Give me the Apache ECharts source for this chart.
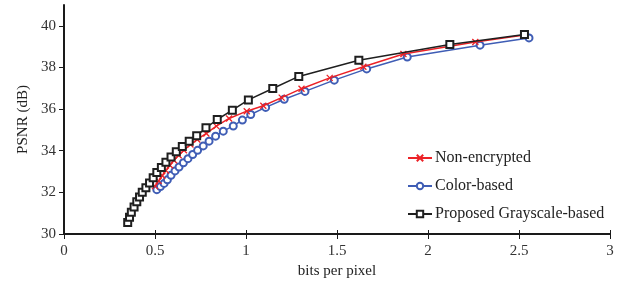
<!DOCTYPE html>
<html>
<head>
<meta charset="utf-8">
<script src="https://cdn.jsdelivr.net/npm/echarts@6/dist/echarts.min.js"></script>
<style>
  html, body { margin: 0; padding: 0; background: #fff; }
  #main { width: 631px; height: 288px; }
</style>
</head>
<body>
<div id="main"></div>
<script>
// series names
var seriesNames = ['Non-encrypted', 'Color-based', 'Proposed Grayscale-based'];

// [bits per pixel, PSNR dB]
var nonEncrypted = [
    [0.50, 32.3], [0.52, 32.55], [0.54, 32.8], [0.56, 33.05], [0.582, 33.3],
    [0.604, 33.54], [0.63, 33.78], [0.659, 34.02], [0.695, 34.3], [0.732, 34.54],
    [0.782, 34.83], [0.837, 35.18], [0.907, 35.55], [1.004, 35.9], [1.095, 36.16],
    [1.196, 36.55], [1.305, 36.98], [1.46, 37.5], [1.645, 38.03], [1.865, 38.65],
    [2.26, 39.22], [2.53, 39.56]
];
var colorBased = [
    [0.51, 32.13], [0.53, 32.28], [0.55, 32.43], [0.568, 32.6], [0.588, 32.82],
    [0.61, 33.03], [0.632, 33.22], [0.656, 33.42], [0.681, 33.62], [0.707, 33.82],
    [0.734, 34.02], [0.765, 34.23], [0.797, 34.46], [0.833, 34.7], [0.875, 34.94],
    [0.93, 35.19], [0.98, 35.47], [1.026, 35.74], [1.108, 36.08], [1.21, 36.47],
    [1.324, 36.85], [1.485, 37.39], [1.663, 37.93], [1.886, 38.5], [2.286, 39.07],
    [2.555, 39.42]
];
var grayscaleBased = [
    [0.35, 30.55], [0.36, 30.8], [0.37, 31.05], [0.385, 31.3], [0.40, 31.55],
    [0.415, 31.78], [0.43, 32.0], [0.45, 32.22], [0.47, 32.45], [0.49, 32.7],
    [0.51, 32.95], [0.535, 33.2], [0.56, 33.45], [0.588, 33.7], [0.617, 33.95],
    [0.65, 34.2], [0.688, 34.45], [0.729, 34.72], [0.78, 35.1], [0.842, 35.5],
    [0.925, 35.95], [1.013, 36.44], [1.147, 36.99], [1.29, 37.57], [1.62, 38.35],
    [2.12, 39.1], [2.53, 39.58]
];

var yTicks = [30, 32, 34, 36, 38, 40];

var font = 'Liberation Serif';
var xMark = 'path://M0,0L10,10M10,0L0,10';

var chart = echarts.init(document.getElementById('main'));

var option = {
    backgroundColor: '#fff',
    animation: false,
    grid: { left: 64, right: 21, top: 5, bottom: 54 },
    legend: {
        orient: 'vertical',
        left: 402,
        top: 145,
        itemWidth: 24,
        itemHeight: 8,
        itemGap: 12,
        textStyle: { fontFamily: font, fontSize: 16, color: '#222', padding: [0, 0, 0, -2] },
        data: seriesNames
    },
    xAxis: [{
        type: 'value',
        min: 0, max: 3, interval: 0.5,
        name: 'bits per pixel',
        nameLocation: 'middle',
        nameGap: 30,
        nameTextStyle: { fontFamily: font, fontSize: 15, color: '#222' },
        axisLine: { lineStyle: { color: '#1a1a1a', width: 2 } },
        axisTick: { length: 5, lineStyle: { color: '#1a1a1a', width: 1 } },
        axisLabel: { fontFamily: font, fontSize: 15, color: '#333', margin: 10 },
        splitLine: { show: false }
    }, {
        type: 'value',
        position: 'bottom',
        min: 0, max: 3, interval: 0.5,
        axisLine: { show: false },
        axisTick: { inside: true, length: 4, lineStyle: { color: '#1a1a1a', width: 1 } },
        axisLabel: { show: false },
        splitLine: { show: false }
    }],
    yAxis: {
        type: 'value',
        min: 30, max: 41,
        name: 'PSNR (dB)',
        nameLocation: 'middle',
        nameGap: 28,
        nameTextStyle: { fontFamily: font, fontSize: 15, color: '#222' },
        axisLine: { show: true, lineStyle: { color: '#1a1a1a', width: 2 } },
        axisTick: { show: true, length: 5, customValues: yTicks, lineStyle: { color: '#1a1a1a', width: 1 } },
        axisLabel: { fontFamily: font, fontSize: 15, color: '#333', margin: 8, customValues: yTicks },
        splitLine: { show: false }
    },
    series: [
        {
            name: seriesNames[0],
            type: 'line',
            data: nonEncrypted,
            symbol: xMark,
            symbolSize: 6,
            z: 3,
            lineStyle: { color: '#ec2227', width: 1.5 },
            itemStyle: { color: '#ec2227', borderColor: '#ec2227', borderWidth: 1.3 }
        },
        {
            name: seriesNames[1],
            type: 'line',
            data: colorBased,
            symbol: 'emptyCircle',
            symbolSize: 7,
            z: 2,
            lineStyle: { color: '#3f5db5', width: 1.5 },
            itemStyle: { color: '#3f5db5', borderWidth: 1.3 }
        },
        {
            name: seriesNames[2],
            type: 'line',
            data: grayscaleBased,
            symbol: 'emptyRect',
            symbolSize: 7,
            z: 4,
            lineStyle: { color: '#1f1f1f', width: 1.5 },
            itemStyle: { color: '#1f1f1f', borderWidth: 1.3 }
        }
    ]
};

option && chart.setOption(option);
</script>
</body>
</html>
